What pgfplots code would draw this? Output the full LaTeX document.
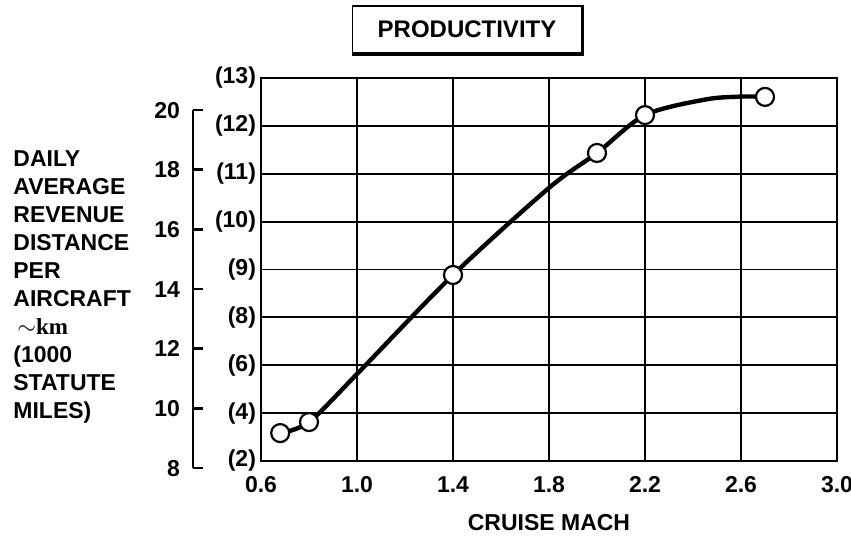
\documentclass[border=0pt]{standalone}
\usepackage{fontspec}
\setmainfont{Liberation Sans}
\newfontfamily\serifbold{Liberation Serif}
\usepackage{pgfplots}
\pgfplotsset{compat=1.18}

\newcommand{\lblfont}{\bfseries\fontsize{11.5}{14}\selectfont}

\begin{document}
\begin{tikzpicture}[x=1pt,y=1pt]
\useasboundingbox (0,0) rectangle (425.5,270.5);

% km scale on the left
\begin{axis}[
    at={(96.5pt,36.5pt)}, anchor=south west,
    scale only axis, width=10pt, height=179pt,
    xmin=0, xmax=1, ymin=8, ymax=20,
    axis x line=none,
    axis y line=left,
    y axis line style={-, line width=1.4pt},
    ytick={8,10,12,14,16,18,20},
    yticklabels={8,10,12,14,16,18,20},
    tick align=inside,
    major tick length=5pt,
    tick style={black, line width=1.4pt},
    yticklabel style={font=\lblfont, xshift=-3pt, text height=8.3pt, text depth=0.2pt},
]
\end{axis}

% main grid, thousand statute miles labels
\begin{axis}[
    at={(130.5pt,40pt)}, anchor=south west,
    scale only axis, width=288pt, height=191.5pt,
    xmin=0.6, xmax=3.0, ymin=8.2346, ymax=21.073,
    xtick={0.6,1.0,1.4,1.8,2.2,2.6,3.0},
    xticklabels={0.6,1.0,1.4,1.8,2.2,2.6,3.0},
    ytick={8.2346,9.8394,11.4442,13.0490,14.6538,16.2586,17.8634,19.4682,21.073},
    yticklabels={(2),(4),(6),(8),(9),(10),(11),(12),(13)},
    grid=major,
    grid style={black, line width=0.9pt},
    major tick length=0pt,
    axis line style={line width=1.4pt},
    ticklabel style={font=\lblfont},
    yticklabel style={xshift=1pt},
    xticklabel style={yshift=-4pt, text height=8.3pt, text depth=0.2pt},
    xlabel={CRUISE MACH},
    xlabel style={font=\lblfont, at={(axis description cs:0.5,0)}, anchor=center, yshift=-31pt},
]
\addplot[smooth, black, line width=2.2pt] coordinates {
    (0.68,9.17) (0.8,9.54) (1.0,11.15) (1.4,14.47) (1.8,17.39)
    (2.0,18.56) (2.2,19.83) (2.45,20.35) (2.6,20.45) (2.7,20.44)
};
\addplot[only marks, mark=*, mark size=4.5pt,
    mark options={fill=white, draw=black, line width=1.1pt}] coordinates {
    (0.68,9.17) (0.8,9.54) (1.4,14.47) (2.0,18.56) (2.2,19.83) (2.7,20.44)
};
\end{axis}

% title box
\node[draw, line width=0.9pt, minimum width=114.5pt, minimum height=23.5pt,
      font=\bfseries\fontsize{12}{14}\selectfont] (t) at (233.5,255.75) {PRODUCTIVITY};
\draw[line width=1.8pt] (t.north east) -- (t.south east) -- (t.south west);

% y label
\node[anchor=north west, inner sep=0pt, align=left, font=\lblfont] at (6.5,195.25)
    {DAILY\\AVERAGE\\REVENUE\\DISTANCE\\PER\\AIRCRAFT\\
     \hspace{2pt}$\sim${\serifbold km}\\(1000\\STATUTE\\MILES)};
\end{tikzpicture}
\end{document}
